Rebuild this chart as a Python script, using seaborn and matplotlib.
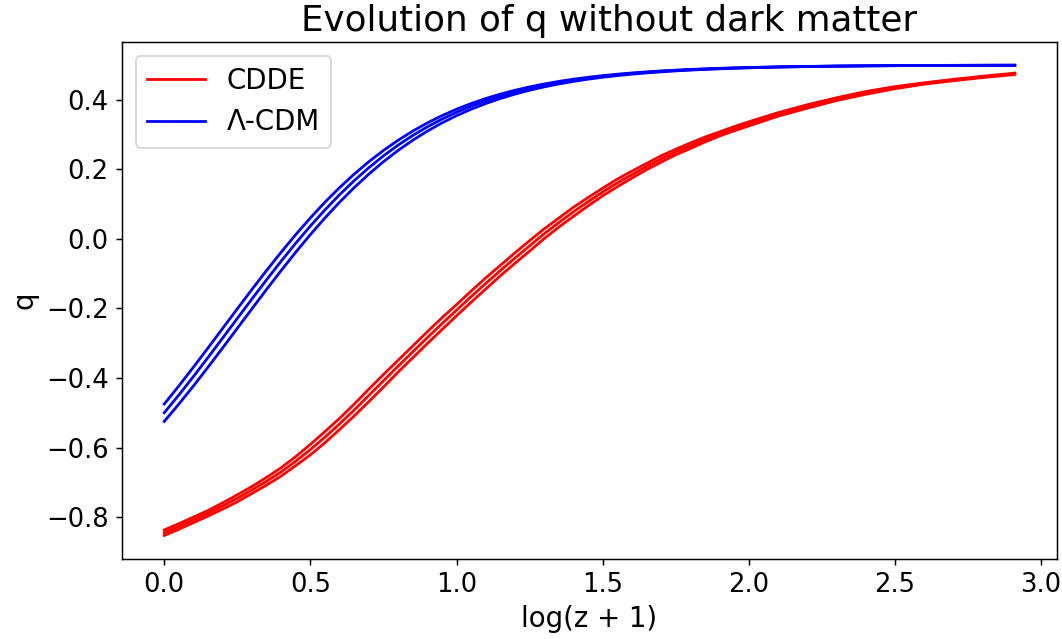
import matplotlib
matplotlib.use("Agg")
import matplotlib.pyplot as plt
import seaborn as sns

# log(z + 1) sample grid
log_zp1 = [0.0, 0.05, 0.1, 0.15, 0.2, 0.25, 0.3, 0.35, 0.4, 0.45,
           0.5, 0.55, 0.6, 0.65, 0.7, 0.75, 0.8, 0.85, 0.9, 0.95,
           1.0, 1.05, 1.1, 1.15, 1.2, 1.25, 1.3, 1.35, 1.4, 1.45,
           1.5, 1.55, 1.6, 1.65, 1.7, 1.75, 1.8, 1.85, 1.9, 1.95,
           2.0, 2.1, 2.2, 2.3, 2.4, 2.5, 2.6, 2.7, 2.8, 2.9, 2.91]

# deceleration parameter q, CDDE model (upper / central / lower)
cdde_hi = [-0.837, -0.819, -0.800, -0.781, -0.759, -0.736, -0.712, -0.686, -0.658, -0.626,
           -0.591, -0.554, -0.516, -0.475, -0.432, -0.390, -0.349, -0.308, -0.267, -0.227,
           -0.189, -0.150, -0.112, -0.076, -0.040, -0.005, 0.029, 0.060, 0.091, 0.119,
           0.146, 0.172, 0.195, 0.217, 0.239, 0.258, 0.276, 0.293, 0.308, 0.323,
           0.337, 0.363, 0.386, 0.406, 0.424, 0.438, 0.449, 0.459, 0.468, 0.476, 0.477]
cdde_mid = [-0.845, -0.827, -0.808, -0.789, -0.768, -0.746, -0.722, -0.697, -0.670, -0.639,
            -0.606, -0.570, -0.532, -0.492, -0.450, -0.408, -0.366, -0.325, -0.284, -0.244,
            -0.205, -0.166, -0.128, -0.091, -0.055, -0.020, 0.015, 0.047, 0.078, 0.107,
            0.135, 0.161, 0.185, 0.208, 0.230, 0.250, 0.268, 0.286, 0.302, 0.317,
            0.331, 0.358, 0.381, 0.402, 0.420, 0.435, 0.447, 0.457, 0.466, 0.474, 0.475]
cdde_lo = [-0.853, -0.835, -0.816, -0.797, -0.777, -0.756, -0.732, -0.708, -0.682, -0.652,
           -0.621, -0.586, -0.548, -0.509, -0.468, -0.426, -0.383, -0.342, -0.301, -0.261,
           -0.221, -0.182, -0.144, -0.106, -0.070, -0.035, 0.001, 0.034, 0.065, 0.095,
           0.124, 0.150, 0.175, 0.199, 0.221, 0.242, 0.260, 0.279, 0.296, 0.311,
           0.325, 0.353, 0.376, 0.398, 0.416, 0.432, 0.445, 0.455, 0.464, 0.472, 0.473]

# deceleration parameter q, Lambda-CDM (upper / central / lower)
lcdm_hi = [-0.475, -0.4228, -0.3686, -0.3133, -0.2571, -0.2010, -0.1453, -0.0909, -0.0381, 0.0125,
           0.0605, 0.1057, 0.1477, 0.1865, 0.2221, 0.2545, 0.2837, 0.3100, 0.3336, 0.3545,
           0.3730, 0.3894, 0.4038, 0.4165, 0.4276, 0.4372, 0.4457, 0.4530, 0.4594, 0.4649,
           0.4697, 0.4738, 0.4774, 0.4805, 0.4832, 0.4855, 0.4875, 0.4892, 0.4907, 0.4920,
           0.4931, 0.4949, 0.4962, 0.4972, 0.4979, 0.4985, 0.4989, 0.4992, 0.4994, 0.4995, 0.4995]
lcdm_mid = [-0.500, -0.4488, -0.3956, -0.3407, -0.2849, -0.2287, -0.1727, -0.1176, -0.0639, -0.0122,
            0.0372, 0.0837, 0.1273, 0.1677, 0.2049, 0.2389, 0.2696, 0.2974, 0.3223, 0.3445,
            0.3642, 0.3816, 0.3970, 0.4104, 0.4223, 0.4326, 0.4416, 0.4495, 0.4563, 0.4623,
            0.4674, 0.4719, 0.4757, 0.4790, 0.4819, 0.4844, 0.4866, 0.4884, 0.4900, 0.4914,
            0.4926, 0.4945, 0.4959, 0.4970, 0.4978, 0.4983, 0.4988, 0.4991, 0.4993, 0.4995, 0.4995]
lcdm_lo = [-0.525, -0.475, -0.4228, -0.3686, -0.3133, -0.2571, -0.2010, -0.1453, -0.0909, -0.0381,
           0.0125, 0.0605, 0.1057, 0.1477, 0.1865, 0.2221, 0.2545, 0.2837, 0.3100, 0.3336,
           0.3545, 0.3730, 0.3894, 0.4038, 0.4165, 0.4276, 0.4372, 0.4457, 0.4530, 0.4594,
           0.4649, 0.4697, 0.4738, 0.4774, 0.4805, 0.4832, 0.4855, 0.4875, 0.4892, 0.4907,
           0.4920, 0.4941, 0.4956, 0.4967, 0.4976, 0.4982, 0.4987, 0.4990, 0.4993, 0.4995, 0.4995]

series_labels = ["CDDE", "\u039b-CDM"]

dpi = 132.75
fig, ax = plt.subplots(figsize=(1062 / dpi, 639 / dpi), dpi=dpi)
fig.subplots_adjust(left=0.1146, right=0.9956, bottom=0.1252, top=0.9347)

for ys, lab in ((cdde_hi, None), (cdde_mid, series_labels[0]), (cdde_lo, None)):
    sns.lineplot(x=log_zp1, y=ys, color="red", linewidth=1.5, label=lab, ax=ax)
for ys, lab in ((lcdm_hi, None), (lcdm_mid, series_labels[1]), (lcdm_lo, None)):
    sns.lineplot(x=log_zp1, y=ys, color="blue", linewidth=1.5, label=lab, ax=ax)

ax.set_title("Evolution of q without dark matter", fontsize=19.3, x=0.521)
ax.set_xlabel("log(z + 1)", fontsize=15)
ax.set_ylabel("q", fontsize=15)
ax.tick_params(labelsize=14)
ax.legend(loc="upper left", fontsize=15, handlelength=2.1)

fig.savefig("out.png", dpi=dpi)
